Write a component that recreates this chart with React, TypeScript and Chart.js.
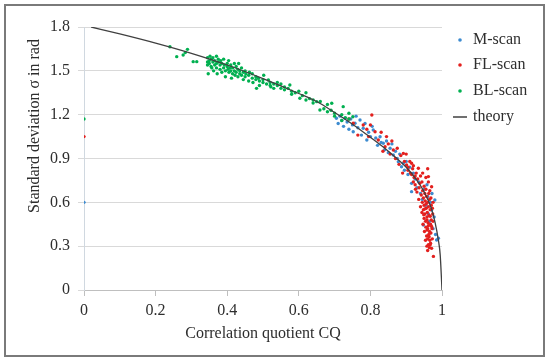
import React, { useEffect, useRef } from "react";
import { Chart, registerables } from "chart.js";

Chart.register(...registerables);

const seriesNames = ["M-scan", "FL-scan", "BL-scan", "theory"];
const seriesColors = ["#3C8BD0", "#E3201E", "#00B050", "#404040"];
const xTitle = "Correlation quotient CQ";
const yTitle = "Standard deviation σ in rad";

const theoryX = [0.02, 0.1, 0.2, 0.3, 0.4, 0.5, 0.6, 0.65, 0.7, 0.75, 0.8, 0.85, 0.9, 0.93, 0.95, 0.97, 0.98, 0.99, 0.995, 1.0];
const theoryY = [1.8, 1.753, 1.69, 1.62, 1.54, 1.447, 1.345, 1.29, 1.215, 1.135, 1.045, 0.95, 0.84, 0.75, 0.672, 0.56, 0.47, 0.34, 0.24, 0.0];

const mScan: [number, number][] = [
  [0, 0.6],
  [0.705, 1.175], [0.71, 1.14], [0.715, 1.19], [0.72, 1.16], [0.725, 1.12], [0.729, 1.175], [0.735, 1.15],
  [0.74, 1.1], [0.745, 1.17], [0.75, 1.13], [0.752, 1.083], [0.757, 1.141], [0.76, 1.19], [0.765, 1.11],
  [0.771, 1.164], [0.775, 1.06], [0.78, 1.107], [0.785, 1.14], [0.79, 1.027], [0.795, 1.08], [0.8, 1.05],
  [0.805, 1.12], [0.808, 1.095], [0.815, 1.04], [0.82, 0.99], [0.827, 1.049], [0.83, 1.01], [0.836, 1.004],
  [0.84, 0.96], [0.845, 1.02], [0.85, 0.94], [0.855, 0.97], [0.86, 1.0], [0.864, 0.924], [0.87, 0.95],
  [0.875, 0.9], [0.878, 0.878], [0.882, 0.93], [0.887, 0.844], [0.892, 0.867], [0.895, 0.82], [0.9, 0.88],
  [0.905, 0.79], [0.91, 0.84], [0.915, 0.73], [0.915, 0.673], [0.92, 0.8], [0.925, 0.76], [0.93, 0.7],
  [0.935, 0.74], [0.94, 0.66], [0.945, 0.62], [0.948, 0.445], [0.95, 0.69], [0.955, 0.58], [0.96, 0.64],
  [0.962, 0.52], [0.965, 0.47], [0.968, 0.6], [0.971, 0.548], [0.975, 0.42], [0.978, 0.5], [0.98, 0.616],
  [0.982, 0.38], [0.985, 0.342], [0.99, 0.354], [0.972, 0.66], [0.958, 0.72]
];

const flScan: [number, number][] = [
  [0, 1.05],
  [0.752, 1.141], [0.78, 1.129], [0.804, 1.198], [0.813, 1.083], [0.822, 1.027], [0.841, 0.981], [0.85, 1.0],
  [0.864, 0.958], [0.892, 0.935], [0.901, 0.856], [0.91, 0.88], [0.92, 0.85], [0.74, 1.17], [0.765, 1.06],
  [0.79, 1.1], [0.795, 1.05], [0.8, 1.13], [0.83, 1.08], [0.835, 0.95], [0.845, 1.05], [0.855, 0.93],
  [0.86, 1.02], [0.87, 0.9], [0.875, 0.97], [0.88, 0.86], [0.885, 0.92], [0.89, 0.8], [0.895, 0.88],
  [0.9, 0.93], [0.905, 0.82], [0.915, 0.79], [0.925, 0.78],
  [0.905, 0.84], [0.912, 0.8], [0.918, 0.83], [0.922, 0.77], [0.928, 0.8], [0.925, 0.72], [0.932, 0.76],
  [0.936, 0.7], [0.94, 0.78], [0.938, 0.73], [0.944, 0.74], [0.946, 0.68], [0.95, 0.71], [0.942, 0.65],
  [0.948, 0.63], [0.952, 0.66], [0.955, 0.69], [0.945, 0.6], [0.95, 0.58], [0.953, 0.61], [0.957, 0.64],
  [0.96, 0.6], [0.948, 0.55], [0.952, 0.52], [0.956, 0.56], [0.959, 0.53], [0.962, 0.57], [0.965, 0.62],
  [0.95, 0.49], [0.954, 0.47], [0.958, 0.5], [0.961, 0.46], [0.964, 0.51], [0.967, 0.55], [0.955, 0.43],
  [0.958, 0.41], [0.962, 0.44], [0.965, 0.4], [0.968, 0.45], [0.97, 0.48], [0.957, 0.37], [0.96, 0.35],
  [0.963, 0.38], [0.966, 0.34], [0.969, 0.39], [0.972, 0.42], [0.962, 0.31], [0.965, 0.29], [0.968, 0.32],
  [0.971, 0.285], [0.976, 0.23], [0.973, 0.35], [0.93, 0.67], [0.935, 0.62], [0.94, 0.57], [0.944, 0.53],
  [0.947, 0.45], [0.951, 0.4], [0.954, 0.34], [0.958, 0.3], [0.962, 0.74], [0.971, 0.707], [0.966, 0.68],
  [0.97, 0.58], [0.974, 0.52], [0.975, 0.6], [0.946, 0.8], [0.955, 0.77], [0.96, 0.83], [0.934, 0.833],
  [0.915, 0.867], [0.962, 0.776], [0.92, 0.74], [0.926, 0.69], [0.958, 0.48], [0.96, 0.42], [0.956, 0.59],
  [0.952, 0.555], [0.949, 0.515], [0.964, 0.365], [0.967, 0.505], [0.963, 0.66], [0.969, 0.63], [0.973, 0.56],
  [0.975, 0.47], [0.971, 0.435], [0.967, 0.31], [0.96, 0.27]
];

const blScan: [number, number][] = [
  [0, 1.17],
  [0.24, 1.665], [0.259, 1.597], [0.277, 1.608], [0.283, 1.625], [0.289, 1.647], [0.305, 1.563], [0.315, 1.563],
  [0.345, 1.59], [0.345, 1.56], [0.345, 1.54], [0.347, 1.48], [0.35, 1.57], [0.35, 1.55], [0.352, 1.6],
  [0.355, 1.58], [0.355, 1.53], [0.357, 1.52], [0.36, 1.56], [0.36, 1.59], [0.362, 1.5], [0.365, 1.57],
  [0.365, 1.54], [0.37, 1.6], [0.37, 1.55], [0.37, 1.52], [0.372, 1.48], [0.375, 1.56], [0.375, 1.58],
  [0.38, 1.54], [0.38, 1.51], [0.382, 1.57], [0.385, 1.55], [0.385, 1.49], [0.39, 1.58], [0.39, 1.52],
  [0.392, 1.54], [0.395, 1.5], [0.395, 1.46], [0.4, 1.55], [0.4, 1.53], [0.402, 1.51], [0.404, 1.57],
  [0.405, 1.49], [0.407, 1.52], [0.41, 1.54], [0.41, 1.5], [0.412, 1.45], [0.415, 1.52], [0.415, 1.48],
  [0.42, 1.5], [0.42, 1.55], [0.422, 1.47], [0.425, 1.53], [0.425, 1.49], [0.43, 1.51], [0.43, 1.46],
  [0.432, 1.55], [0.435, 1.48], [0.435, 1.5], [0.44, 1.52], [0.44, 1.47], [0.445, 1.49], [0.445, 1.44],
  [0.45, 1.5], [0.45, 1.46], [0.452, 1.48], [0.46, 1.47], [0.46, 1.43], [0.462, 1.49], [0.47, 1.45],
  [0.47, 1.48], [0.472, 1.42], [0.48, 1.46], [0.48, 1.44], [0.482, 1.38], [0.487, 1.449], [0.49, 1.43],
  [0.49, 1.4], [0.5, 1.44], [0.5, 1.42], [0.502, 1.47], [0.51, 1.41], [0.515, 1.437], [0.52, 1.42],
  [0.52, 1.4], [0.522, 1.39], [0.53, 1.41], [0.53, 1.38], [0.54, 1.4], [0.54, 1.42], [0.55, 1.38],
  [0.55, 1.41], [0.56, 1.39], [0.56, 1.37], [0.57, 1.38], [0.575, 1.403], [0.58, 1.36], [0.58, 1.34],
  [0.59, 1.35], [0.6, 1.36], [0.603, 1.312], [0.61, 1.33], [0.62, 1.3], [0.62, 1.35], [0.63, 1.31],
  [0.64, 1.28], [0.64, 1.3], [0.65, 1.289], [0.659, 1.232], [0.66, 1.29], [0.67, 1.24], [0.68, 1.27],
  [0.68, 1.22], [0.692, 1.278], [0.69, 1.23], [0.7, 1.21], [0.7, 1.19], [0.72, 1.2], [0.724, 1.255],
  [0.72, 1.16], [0.73, 1.18], [0.74, 1.21], [0.74, 1.17], [0.751, 1.186]
];

const xTickValues = [0, 0.2, 0.4, 0.6, 0.8, 1];
const yTickValues = [0, 0.3, 0.6, 0.9, 1.2, 1.5, 1.8];

const FONT = "'Liberation Serif', 'Times New Roman', serif";
const TEXT = "#2e2e2e";

export default function App() {
  const ref = useRef<HTMLCanvasElement | null>(null);

  useEffect(() => {
    document.body.style.margin = "0";
    const canvas = ref.current;
    if (!canvas) return;

    const decor = {
      id: "decor",
      beforeDraw(chart: any) {
        const c = chart.ctx;
        c.save();
        c.fillStyle = "#ffffff";
        c.fillRect(0, 0, chart.width, chart.height);
        c.restore();
      },
      afterDraw(chart: any) {
        const c = chart.ctx;
        c.save();
        c.strokeStyle = "#7a7a7a";
        c.lineWidth = 2;
        c.strokeRect(5, 5, 539, 351);
        c.fillStyle = TEXT;
        c.font = `16px ${FONT}`;
        c.textAlign = "center";
        c.textBaseline = "middle";
        c.translate(35, 126);
        c.rotate(-Math.PI / 2);
        c.fillText(yTitle, 0, 0);
        c.restore();
        c.save();
        c.font = `16px ${FONT}`;
        c.textAlign = "left";
        c.textBaseline = "middle";
        const ys = [40, 65, 91, 117];
        for (let i = 0; i < 4; i++) {
          if (i < 3) {
            c.fillStyle = seriesColors[i];
            c.beginPath();
            c.arc(460, ys[i], 1.8, 0, Math.PI * 2);
            c.fill();
          } else {
            c.strokeStyle = seriesColors[i];
            c.lineWidth = 1.5;
            c.beginPath();
            c.moveTo(453, ys[i]);
            c.lineTo(467, ys[i]);
            c.stroke();
          }
          c.fillStyle = TEXT;
          c.fillText(seriesNames[i], 473, ys[i]);
        }
        c.restore();
      },
    };

    const fmt = (v: any) => String(Number(Number(v).toFixed(1)));
    const pts = (arr: [number, number][]) => arr.map(([x, y]) => ({ x, y }));

    const chart = new Chart(canvas, {
      type: "scatter",
      data: {
        datasets: [
          {
            label: seriesNames[3],
            data: theoryX.map((x, i) => ({ x, y: theoryY[i] })),
            showLine: true,
            borderColor: seriesColors[3],
            borderWidth: 1.3,
            pointRadius: 0,
            cubicInterpolationMode: "monotone",
            order: 1,
          } as any,
          {
            label: seriesNames[2],
            data: pts(blScan),
            backgroundColor: seriesColors[2],
            borderWidth: 0,
            pointRadius: 1.7,
            order: 2,
          },
          {
            label: seriesNames[1],
            data: pts(flScan),
            backgroundColor: seriesColors[1],
            borderWidth: 0,
            pointRadius: 1.7,
            order: 3,
          },
          {
            label: seriesNames[0],
            data: pts(mScan),
            backgroundColor: seriesColors[0],
            borderWidth: 0,
            pointRadius: 1.7,
            order: 4,
          },
        ],
      },
      options: {
        animation: false,
        responsive: true,
        maintainAspectRatio: false,
        layout: { padding: { left: 0, right: 108, top: 27, bottom: 0 } },
        plugins: { legend: { display: false }, tooltip: { enabled: false } },
        scales: {
          x: {
            type: "linear",
            min: 0,
            max: 1,
            afterBuildTicks: (s: any) => {
              s.ticks = xTickValues.map((v) => ({ value: v }));
            },
            afterFit: (s: any) => {
              s.height = 72;
            },
            ticks: {
              callback: fmt,
              font: { family: FONT, size: 16 },
              color: TEXT,
              padding: 5,
              maxRotation: 0,
            },
            grid: { drawOnChartArea: false, drawTicks: true, tickLength: 6, color: "#bfbfbf" },
            border: { color: "#bfbfbf" },
            title: {
              display: true,
              text: xTitle,
              font: { family: FONT, size: 16 },
              color: TEXT,
              padding: { top: 0, bottom: 19 },
            },
          },
          y: {
            type: "linear",
            min: 0,
            max: 1.8,
            afterBuildTicks: (s: any) => {
              s.ticks = yTickValues.map((v) => ({ value: v }));
            },
            afterFit: (s: any) => {
              s.width = 84;
            },
            ticks: {
              callback: fmt,
              font: { family: FONT, size: 16 },
              color: TEXT,
              padding: 8,
            },
            grid: { color: "#d9d9d9", tickLength: 6 },
            border: { color: "#d0d8e0" },
          },
        },
      },
      plugins: [decor],
    });

    return () => chart.destroy();
  }, []);

  return (
    <div style={{ position: "relative", width: 550, height: 362 }}>
      <canvas ref={ref} />
    </div>
  );
}
